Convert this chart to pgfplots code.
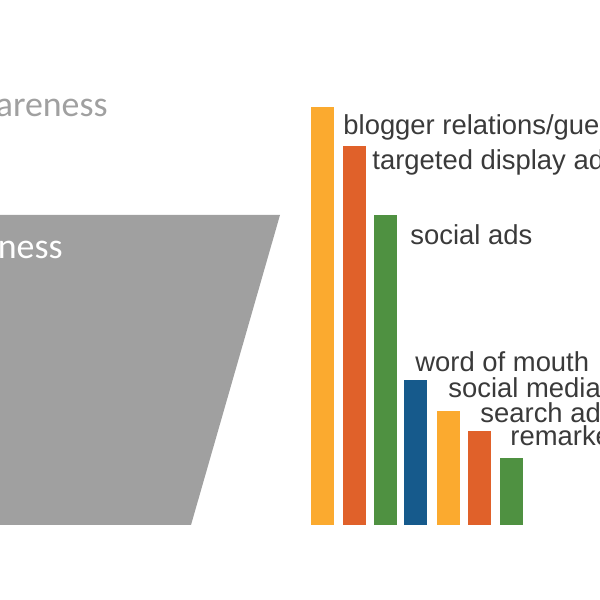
\documentclass[border=0pt]{standalone}
\usepackage{pgfplots}
\pgfplotsset{compat=1.18}
\usepackage{fontspec}
\setmainfont{Liberation Sans}
\newfontfamily\calib{Carlito}
\definecolor{barO}{HTML}{FBAA2F}
\definecolor{barR}{HTML}{E0612A}
\definecolor{barG}{HTML}{4F9141}
\definecolor{barB}{HTML}{165A8C}
\definecolor{funnel}{HTML}{A0A0A0}
\definecolor{lbl}{HTML}{3A3A3A}
\begin{document}
\begin{tikzpicture}
\path[use as bounding box] (0,0) rectangle (10cm,10cm);
\clip (0,0) rectangle (10cm,10cm);
\begin{axis}[at={(0,0)}, anchor=south west, scale only axis, width=10cm, height=10cm,
  xmin=0, xmax=600, ymin=-75, ymax=525, hide axis, clip=false,
  mybar/.style={ybar, bar width=23, bar shift=0pt, fill=#1, draw=none}]
\addplot[sharp plot, fill=funnel, draw=none] coordinates {(-20,0) (-20,310) (280,310) (191,0)} -- cycle;
\addplot[mybar=barO] coordinates {(322,418)};
\addplot[mybar=barR] coordinates {(354,379)};
\addplot[mybar=barG] coordinates {(385,310)};
\addplot[mybar=barB] coordinates {(415.5,145)};
\addplot[mybar=barO] coordinates {(448.5,114)};
\addplot[mybar=barR] coordinates {(479.5,94)};
\addplot[mybar=barG] coordinates {(511,67)};
\node[anchor=east, inner sep=0pt, text=funnel, font=\calib\fontsize{17}{20}\selectfont] at (axis cs:108,417) {awareness};
\node[anchor=east, inner sep=0pt, text=white, font=\calib\fontsize{17}{20}\selectfont] at (axis cs:63,275) {awareness};
\begin{scope}[every node/.style={anchor=west, inner sep=0pt, text=lbl, font=\fontsize{13}{15}\selectfont}]
\node at (axis cs:343,398) {blogger relations/guest posts};
\node at (axis cs:372,363) {targeted display ads};
\node at (axis cs:410,290) {social ads};
\node at (axis cs:415,163) {word of mouth};
\node at (axis cs:448,137) {social media};
\node at (axis cs:480,112) {search ads};
\node at (axis cs:510,87) {remarketing};
\end{scope}
\end{axis}
\end{tikzpicture}
\end{document}
